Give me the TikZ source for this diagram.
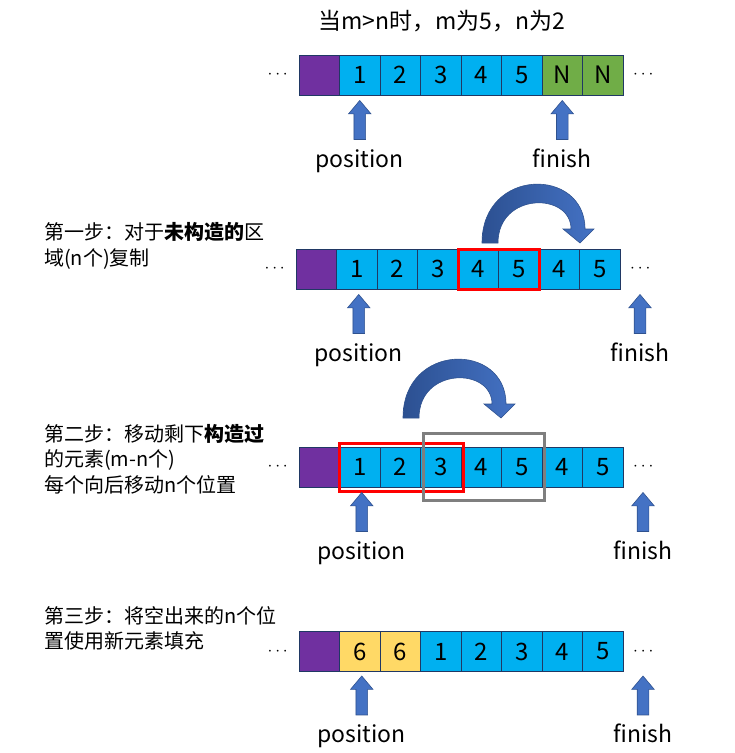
\documentclass[tikz,border=0pt]{standalone}
\usepackage{fontspec}
\setmainfont{Noto Sans CJK SC}
\usepackage{tikz}
\usetikzlibrary{shapes,arrows,positioning,fit}
\definecolor{cellblue}{RGB}{0,176,240}
\definecolor{cellpurple}{RGB}{112,48,160}
\definecolor{cellgreen}{RGB}{112,173,71}
\definecolor{cellyellow}{RGB}{255,217,102}
\definecolor{cellline}{RGB}{32,56,100}
\definecolor{arrowblue}{RGB}{68,114,196}
\definecolor{arrowline}{RGB}{47,82,143}
\definecolor{arcdark}{RGB}{44,80,145}
\definecolor{boxgray}{RGB}{127,127,127}

\begin{document}
\begin{tikzpicture}[
      x=1pt, y=-1pt,
      node distance=0pt,
      cell/.style={rectangle, draw=cellline, line width=0.8pt, fill=cellblue, minimum width=40.5pt, minimum height=40pt, inner sep=0pt, outer sep=0pt, font=\fontsize{24}{24}\selectfont},
      uparrow/.style={single arrow, draw=arrowline, line width=0.6pt, fill=arrowblue, rotate=90, anchor=tip, minimum height=39pt, minimum width=22pt, single arrow head extend=5.5pt, single arrow tip angle=80, inner xsep=0pt, inner ysep=5.5pt},
      lbl/.style={inner sep=0pt, text height=17pt, text depth=5pt, font=\fontsize{23}{23}\selectfont},
      dots/.style={inner sep=0pt, font=\fontsize{16}{16}\selectfont},
      steptext/.style={anchor=west, align=left, inner sep=0pt, font=\fontsize{20}{25.5}\selectfont},
      redbox/.style={draw=red, line width=3pt, inner sep=0pt},
      graybox/.style={draw=boxgray, line width=3pt, inner sep=0pt},
      bigarc/.style={draw=arrowline, line width=0.6pt, left color=arcdark, right color=arrowblue}
    ]
    \useasboundingbox (0,0) rectangle (735,753);

    % Title
    \node[font=\fontsize{23}{23}\selectfont] (title) at (442,21) {当m>n时，m为5，n为2};

    % Row 1: start
    \node[cell, fill=cellpurple] (a0) at (319.25,75) {};
    \node[cell, right=of a0] (a1) {1};
    \node[cell, right=of a1] (a2) {2};
    \node[cell, right=of a2] (a3) {3};
    \node[cell, right=of a3] (a4) {4};
    \node[cell, right=of a4] (a5) {5};
    \node[cell, fill=cellgreen, right=of a5] (a6) {N};
    \node[cell, fill=cellgreen, right=of a6] (a7) {N};
    \node[dots, left=11pt of a0] (al) {$\cdots$};
    \node[dots, right=10pt of a7] (ar) {$\cdots$};
    \node[uparrow] (pa1) at ([yshift=-5pt]a1.south) {};
    \node[uparrow] (fa1) at ([yshift=-5pt]a6.south) {};
    \node[lbl, below=11pt of pa1.tail] (pl1) {position};
    \node[lbl, below=11pt of fa1.tail] (fl1) {finish};

    % Row 2: copy the part not yet constructed
    \node[steptext] (s1) at (44,246) {第一步：对于\textbf{未构造的}区\\域(n个)复制};
    \node[cell, fill=cellpurple] (b0) at (316.25,269) {};
    \node[cell, right=of b0] (b1) {1};
    \node[cell, right=of b1] (b2) {2};
    \node[cell, right=of b2] (b3) {3};
    \node[cell, right=of b3] (b4) {4};
    \node[cell, right=of b4] (b5) {5};
    \node[cell, right=of b5] (b6) {4};
    \node[cell, right=of b6] (b7) {5};
    \node[dots, left=11pt of b0] (bl) {$\cdots$};
    \node[dots, right=10pt of b7] (br) {$\cdots$};
    \node[redbox, fit=(b4)(b5)] (rb2) {};
    \coordinate (arc2) at (482,243);
    \draw[bigarc, shift={(arc2)}] (0,0) .. controls (0,-76) and (103,-76) .. (103,-14) -- (112,-14) -- (98,0) -- (81,-14) -- (89,-14) .. controls (89,-51) and (16,-51) .. (16,0) -- cycle;
    \node[uparrow] (pa2) at ([xshift=2pt,yshift=-5pt]b1.south) {};
    \node[uparrow] (fa2) at ([xshift=20pt,yshift=-5pt]b7.south east) {};
    \node[lbl, below=11pt of pa2.tail] (pl2) {position};
    \node[lbl, below=11pt of fa2.tail] (fl2) {finish};

    % Row 3: move the constructed elements
    \node[steptext] (s2) at (44,459) {第二步：移动剩下\textbf{构造过}\\的元素(m-n个)\\每个向后移动n个位置};
    \node[cell, fill=cellpurple] (c0) at (319.25,467) {};
    \node[cell, right=of c0] (c1) {1};
    \node[cell, right=of c1] (c2) {2};
    \node[cell, right=of c2] (c3) {3};
    \node[cell, right=of c3] (c4) {4};
    \node[cell, right=of c4] (c5) {5};
    \node[cell, right=of c5] (c6) {4};
    \node[cell, right=of c6] (c7) {5};
    \node[dots, left=11pt of c0] (cl) {$\cdots$};
    \node[dots, right=10pt of c7] (cr) {$\cdots$};
    \node[redbox, fit=(c1)(c3), inner xsep=1pt, inner ysep=4pt, xshift=1pt] (rb3) {};
    \node[graybox, fit=(c3)(c5), inner ysep=13.5pt, xshift=2.75pt] (gb3) {};
    \coordinate (arc3) at (403,418);
    \draw[bigarc, shift={(arc3)}] (0,0) .. controls (0,-76) and (103,-76) .. (103,-14) -- (112,-14) -- (98,0) -- (81,-14) -- (89,-14) .. controls (89,-51) and (16,-51) .. (16,0) -- cycle;
    \node[uparrow] (pa3) at ([xshift=2pt,yshift=-5pt]c1.south) {};
    \node[uparrow] (fa3) at ([xshift=20pt,yshift=-5pt]c7.south east) {};
    \node[lbl, below=11pt of pa3.tail] (pl3) {position};
    \node[lbl, below=11pt of fa3.tail] (fl3) {finish};

    % Row 4: fill the freed places
    \node[steptext] (s3) at (44,628.5) {第三步：将空出来的n个位\\置使用新元素填充};
    \node[cell, fill=cellpurple] (d0) at (319.25,651.5) {};
    \node[cell, fill=cellyellow, right=of d0] (d1) {6};
    \node[cell, fill=cellyellow, right=of d1] (d2) {6};
    \node[cell, right=of d2] (d3) {1};
    \node[cell, right=of d3] (d4) {2};
    \node[cell, right=of d4] (d5) {3};
    \node[cell, right=of d5] (d6) {4};
    \node[cell, right=of d6] (d7) {5};
    \node[dots, left=11pt of d0] (dl) {$\cdots$};
    \node[dots, right=10pt of d7] (dr) {$\cdots$};
    \node[uparrow] (pa4) at ([xshift=2pt,yshift=-4pt]d1.south) {};
    \node[uparrow] (fa4) at ([xshift=20pt,yshift=-4pt]d7.south east) {};
    \node[lbl, below=10pt of pa4.tail] (pl4) {position};
    \node[lbl, below=10pt of fa4.tail] (fl4) {finish};
    \end{tikzpicture}
\end{document}
